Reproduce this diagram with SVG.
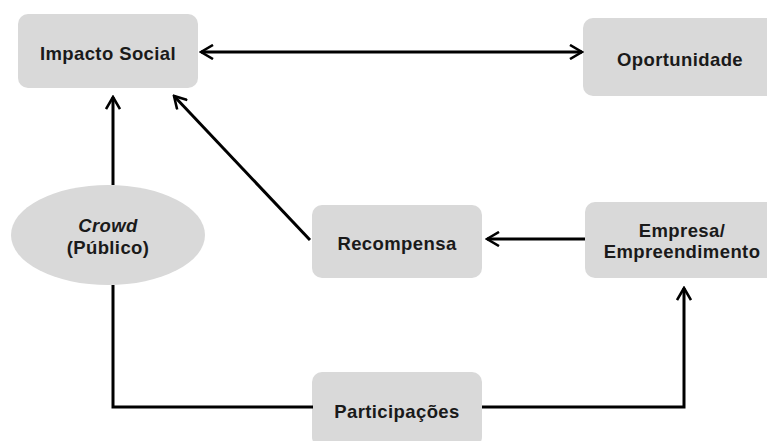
<svg xmlns="http://www.w3.org/2000/svg" width="767" height="441" viewBox="0 0 767 441">
<style>
.box{fill:#d9d9d9;}
.t{font-family:"Liberation Sans",Arial,sans-serif;font-weight:bold;font-size:18.5px;fill:#1a1a1a;text-anchor:middle;letter-spacing:0.4px;}
.c{fill:none;stroke:#000;stroke-width:3;}
</style>
<defs>
<marker id="ah" viewBox="0 0 16 16" refX="14" refY="8" markerWidth="16" markerHeight="16" markerUnits="userSpaceOnUse" orient="auto-start-reverse">
<path d="M2,1 L14,8 L2,15" fill="none" stroke="#000" stroke-width="2.6"/>
</marker>
</defs>
<rect width="767" height="441" fill="#fff"/>
<g id="impacto"><rect class="box" x="18" y="14" width="180" height="74" rx="10"/><text class="t" x="108" y="60">Impacto Social</text></g>
<g id="oportunidade"><rect class="box" x="583" y="18" width="194" height="78" rx="10"/><text class="t" x="680" y="66">Oportunidade</text></g>
<g id="crowd"><ellipse class="box" cx="108" cy="235" rx="97" ry="50"/><text class="t" x="108" y="232" font-style="italic">Crowd</text><text class="t" x="108" y="254">(Público)</text></g>
<g id="recompensa"><rect class="box" x="312" y="205" width="170" height="73" rx="10"/><text class="t" x="397" y="250">Recompensa</text></g>
<g id="empresa"><rect class="box" x="585" y="202" width="192" height="76" rx="10"/><text class="t" x="682" y="237">Empresa/</text><text class="t" x="682" y="258">Empreendimento</text></g>
<g id="participacoes"><rect class="box" x="312" y="372" width="170" height="75" rx="10"/><text class="t" x="397" y="418">Participações</text></g>
<g id="connectors">
<line class="c" x1="201" y1="52" x2="582" y2="52" marker-start="url(#ah)" marker-end="url(#ah)"/>
<line class="c" x1="113" y1="185" x2="113" y2="97" marker-end="url(#ah)"/>
<line class="c" x1="310" y1="240" x2="174" y2="96" marker-end="url(#ah)"/>
<line class="c" x1="585" y1="239" x2="487" y2="239" marker-end="url(#ah)"/>
<polyline class="c" points="113,285 113,407 313,407"/>
<polyline class="c" points="482,407 684,407 684,288" marker-end="url(#ah)"/>
</g>
</svg>
